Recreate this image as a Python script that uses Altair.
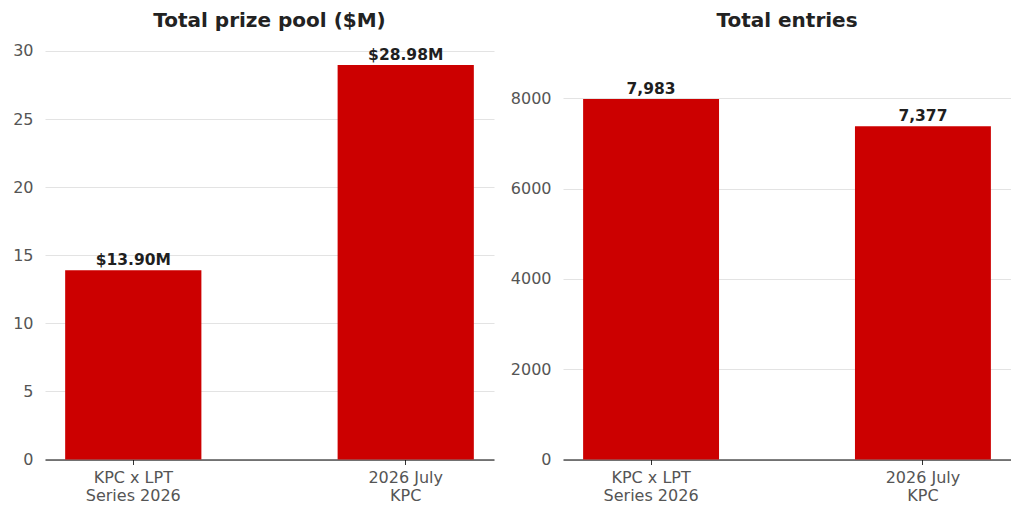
import altair as alt
import pandas as pd

events = ["KPC x LPT|Series 2026", "2026 July|KPC"]
prize_pool_m = [13.90, 28.98]
entries = [7983, 7377]
prize_ticks = [0, 5, 10, 15, 20, 25, 30]
entry_ticks = [0, 2000, 4000, 6000, 8000]

RED = "#cc0000"
FONT = "DejaVu Sans"

prize_df = pd.DataFrame({"event": events, "value": prize_pool_m})
entry_df = pd.DataFrame({"event": events, "value": entries})


def panel(df, title, domain_max, ticks, label_expr, width, title_offset):
    x = alt.X(
        "event:N",
        sort=events,
        title=None,
        scale=alt.Scale(paddingInner=0.5, paddingOuter=0.074),
        axis=alt.Axis(
            labelExpr="split(datum.label, '|')",
            labelAngle=0,
            labelFont=FONT,
            labelFontSize=16,
            labelColor="#555555",
            labelLineHeight=18,
            labelPadding=5,
            tickSize=5,
            tickColor="#333333",
            domainColor="#000000",
            domainWidth=1.2,
            grid=False,
        ),
    )
    y = alt.Y(
        "value:Q",
        title=None,
        scale=alt.Scale(domain=[0, domain_max], nice=False, zero=True),
        axis=alt.Axis(
            values=ticks,
            format="d",
            labelFont=FONT,
            labelFontSize=16,
            labelColor="#555555",
            labelPadding=12,
            ticks=False,
            domain=False,
            grid=True,
            gridColor="#e3e3e3",
            gridWidth=1,
        ),
    )
    base = alt.Chart(df).transform_calculate(label=label_expr)
    bars = base.mark_bar(color=RED).encode(x=x, y=y)
    text = base.mark_text(
        font=FONT,
        fontSize=15.5,
        fontWeight="bold",
        color="#1f1f1f",
        baseline="alphabetic",
        dy=-5,
    ).encode(x=x, y=y, text="label:N")
    return alt.layer(bars, text).properties(
        width=width,
        height=414.5,
        view=alt.ViewBackground(strokeWidth=0, stroke="transparent"),
        title=alt.TitleParams(
            text=title,
            font=FONT,
            fontSize=20,
            fontWeight="bold",
            color="#222222",
            anchor="middle",
            baseline="alphabetic",
            offset=title_offset,
        ),
    )


left = panel(prize_df, "Total prize pool ($M)", 30.44, prize_ticks,
             "'$' + format(datum.value, '.2f') + 'M'", 449, -4)
right = panel(entry_df, "Total entries", 9178, entry_ticks,
              "format(datum.value, ',')", 448, -2)

chart = (
    alt.hconcat(left, right, spacing=16)
    .properties(padding={"left": 4, "top": 2, "right": 0, "bottom": 0})
    .configure_view(strokeWidth=0, stroke="transparent")
    .configure(background="white")
)

chart.save("out.html", embed_options={"renderer": "svg", "actions": False})
